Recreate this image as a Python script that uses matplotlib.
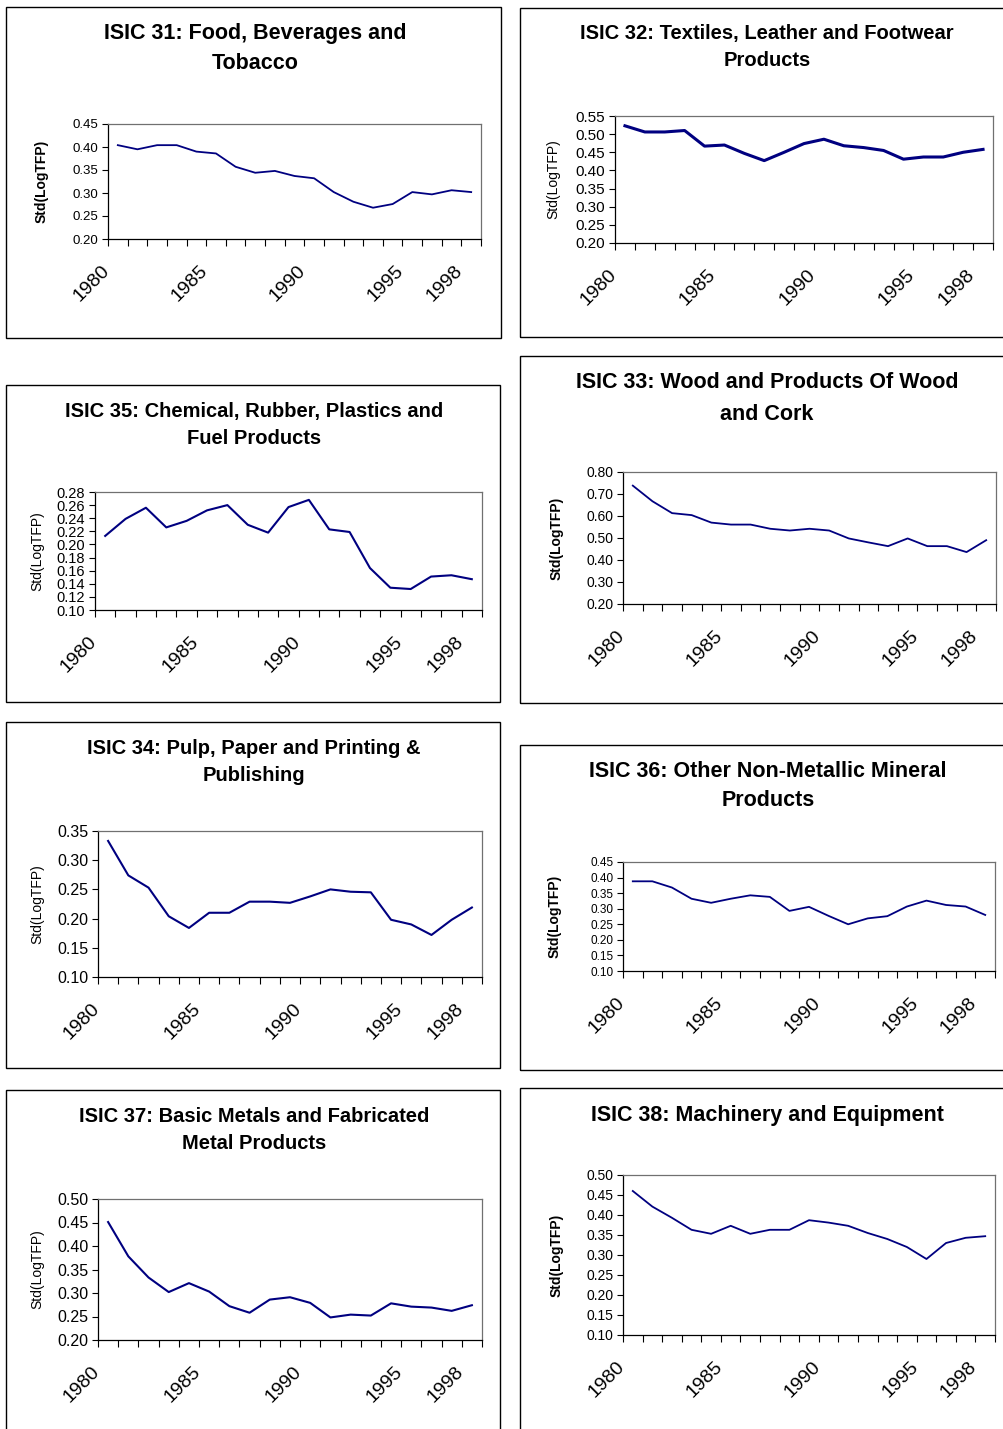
import matplotlib
matplotlib.use('Agg')
import matplotlib.pyplot as plt
from matplotlib.patches import Rectangle
import matplotlib.transforms as mtransforms
import numpy as np

# ---------------- data ----------------
years = list(range(1980, 1999))
label_years = [1980, 1985, 1990, 1995, 1998]

isic31 = [0.404, 0.395, 0.404, 0.404, 0.390, 0.386, 0.357, 0.344, 0.348, 0.337,
          0.332, 0.302, 0.281, 0.268, 0.276, 0.302, 0.297, 0.306, 0.302]
isic32 = [0.523, 0.506, 0.506, 0.510, 0.467, 0.470, 0.447, 0.427, 0.450, 0.474,
          0.486, 0.468, 0.463, 0.455, 0.431, 0.437, 0.437, 0.450, 0.458]
isic35 = [0.213, 0.239, 0.256, 0.226, 0.236, 0.252, 0.260, 0.230, 0.218, 0.257,
          0.268, 0.223, 0.219, 0.164, 0.134, 0.132, 0.151, 0.153, 0.147]
isic33 = [0.738, 0.667, 0.613, 0.604, 0.570, 0.561, 0.561, 0.542, 0.534, 0.542,
          0.534, 0.498, 0.480, 0.463, 0.498, 0.463, 0.463, 0.436, 0.490]
isic34 = [0.333, 0.274, 0.253, 0.204, 0.184, 0.210, 0.210, 0.229, 0.229, 0.227,
          0.238, 0.250, 0.246, 0.245, 0.198, 0.190, 0.172, 0.198, 0.219]
isic36 = [0.388, 0.388, 0.368, 0.332, 0.319, 0.332, 0.343, 0.338, 0.293, 0.306,
          0.277, 0.250, 0.269, 0.276, 0.307, 0.326, 0.312, 0.307, 0.280]
isic37 = [0.451, 0.378, 0.333, 0.302, 0.321, 0.303, 0.272, 0.258, 0.286, 0.291,
          0.279, 0.248, 0.254, 0.252, 0.278, 0.271, 0.269, 0.262, 0.274]
isic38 = [0.460, 0.421, 0.393, 0.363, 0.353, 0.373, 0.353, 0.363, 0.363, 0.387,
          0.381, 0.373, 0.355, 0.340, 0.320, 0.290, 0.330, 0.343, 0.347]

titles = [
    "ISIC 31: Food, Beverages and\nTobacco",
    "ISIC 32: Textiles, Leather and Footwear\nProducts",
    "ISIC 35: Chemical, Rubber, Plastics and\nFuel Products",
    "ISIC 33: Wood and Products Of Wood\nand Cork",
    "ISIC 34: Pulp, Paper and Printing &\nPublishing",
    "ISIC 36: Other Non-Metallic Mineral\nProducts",
    "ISIC 37: Basic Metals and Fabricated\nMetal Products",
    "ISIC 38: Machinery and Equipment",
]
ylabel_text = "Std(LogTFP)"

# ---------------- layout (pixels) ----------------
W, H = 1004, 1429
plt.rcParams['font.family'] = ['Liberation Sans', 'DejaVu Sans']
fig = plt.figure(figsize=(W / 100, H / 100), dpi=100)
fig.patch.set_facecolor('white')

def fx(x):
    return x / W

def fy(y):
    return 1 - y / H

panels = [
    dict(data=isic31, title=titles[0], yr=(0.20, 0.45, 0.05), box=(6, 7, 501, 338),
         ax=(108, 124, 481, 239), tc=(255, 48.5), ls=1.53, ylx=42, bold=True, tfs=9.5, lw=1.3, ttfs=15.5),
    dict(data=isic32, title=titles[1], yr=(0.20, 0.55, 0.05), box=(520, 8, 1012, 337),
         ax=(615, 116, 993, 243), tc=(767, 47), ls=1.6, ylx=553, bold=False, tfs=11, lw=2.2, ttfs=14.5),
    dict(data=isic35, title=titles[2], yr=(0.10, 0.28, 0.02), box=(6, 385, 500, 702),
         ax=(95, 492, 482, 610), tc=(254, 425), ls=1.53, ylx=37, bold=False, tfs=10.5, lw=1.5, ttfs=14.5),
    dict(data=isic33, title=titles[3], yr=(0.20, 0.80, 0.10), box=(520, 356, 1012, 703),
         ax=(623, 472, 996, 604), tc=(767, 398.5), ls=1.63, ylx=557, bold=True, tfs=10, lw=1.3, ttfs=15.5),
    dict(data=isic34, title=titles[4], yr=(0.10, 0.35, 0.05), box=(6, 722, 500, 1068),
         ax=(98, 831, 482, 977), tc=(254, 762), ls=1.53, ylx=37, bold=False, tfs=11.5, lw=1.5, ttfs=14.5),
    dict(data=isic36, title=titles[5], yr=(0.10, 0.45, 0.05), box=(520, 745, 1012, 1070),
         ax=(623, 862, 995, 971), tc=(768, 786), ls=1.55, ylx=555, bold=True, tfs=8.5, lw=1.3, ttfs=15.5),
    dict(data=isic37, title=titles[6], yr=(0.20, 0.50, 0.05), box=(6, 1090, 500, 1440),
         ax=(98, 1199, 482, 1340), tc=(254, 1130), ls=1.53, ylx=37, bold=False, tfs=11.5, lw=1.5, ttfs=14.5),
    dict(data=isic38, title=titles[7], yr=(0.10, 0.50, 0.05), box=(520, 1088, 1012, 1440),
         ax=(623, 1175, 995, 1335), tc=(767, 1115), ls=1.55, ylx=557, bold=True, tfs=10, lw=1.3, ttfs=15.5),
]

n = len(years)
xpos = np.arange(n)

for p in panels:
    bx0, by0, bx1, by1 = p['box']
    fig.patches.append(Rectangle((fx(bx0), fy(by1)), fx(bx1 - bx0), (by1 - by0) / H,
                                 transform=fig.transFigure, fill=False,
                                 edgecolor='black', linewidth=1.0))
    x0, y0, x1, y1 = p['ax']
    ax = fig.add_axes([fx(x0), fy(y1), fx(x1 - x0), (y1 - y0) / H])
    ax.plot(xpos, p['data'], color='#000080', linewidth=p['lw'], solid_joinstyle='round')
    lo, hi, st = p['yr']
    ax.set_ylim(lo, hi)
    ax.set_xlim(-0.5, n - 0.5)
    yt = np.round(np.arange(lo, hi + st / 2, st), 2)
    ax.set_yticks(yt)
    ax.set_yticklabels([f"{v:.2f}" for v in yt], fontsize=p['tfs'])
    # tick marks at category boundaries
    ax.set_xticks(np.arange(-0.5, n, 1.0))
    ax.set_xticklabels([])
    # labels at category centers via minor ticks
    lab_pos = [years.index(y) for y in label_years]
    ax.set_xticks(lab_pos, minor=True)
    ax.set_xticklabels([str(y) for y in label_years], minor=True, fontsize=14,
                       rotation=45, ha='right', va='center', rotation_mode='anchor')
    ax.tick_params(axis='x', which='minor', length=0, pad=21)
    ax.tick_params(axis='x', which='major', direction='out', length=5, width=0.8)
    ax.tick_params(axis='y', direction='out', length=4, width=0.8, pad=3)
    off = mtransforms.ScaledTranslation(-11 / 100, 0, fig.dpi_scale_trans)
    for lab in ax.get_xticklabels(minor=True):
        lab.set_transform(lab.get_transform() + off)
    for s in ['left', 'bottom']:
        ax.spines[s].set_color('black')
        ax.spines[s].set_linewidth(0.9)
    for s in ['top', 'right']:
        ax.spines[s].set_color('#707070')
        ax.spines[s].set_linewidth(0.9)
    ax.set_facecolor('white')
    # title
    fig.text(fx(p['tc'][0]), fy(p['tc'][1]), p['title'], ha='center', va='center',
             fontsize=p['ttfs'], fontweight='bold', linespacing=p['ls'])
    # y label
    fig.text(fx(p['ylx']), fy((y0 + y1) / 2), ylabel_text, rotation=90,
             ha='center', va='center', fontsize=10,
             fontweight='bold' if p['bold'] else 'normal')

fig.savefig('out.png', dpi=100, facecolor='white')
